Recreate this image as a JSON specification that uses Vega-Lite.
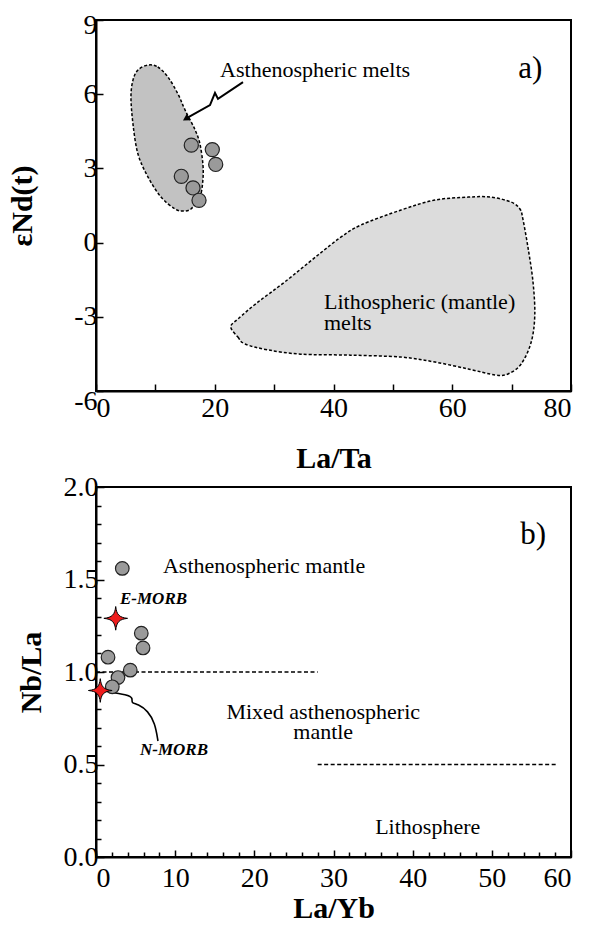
{
  "$schema": "https://vega.github.io/schema/vega-lite/v6.json",
  "padding": {"left": 6, "top": 10, "right": 5, "bottom": 0},
  "spacing": -2,
  "config": {
    "view": {"stroke": "black", "strokeWidth": 2},
    "axis": {"domainColor": "black", "domainWidth": 2, "tickColor": "black", "tickWidth": 1.5, "grid": false,
      "labelFont": "Liberation Serif", "labelFontSize": 28, "labelColor": "black", "labelPadding": 6,
      "titleFont": "Liberation Serif", "titleFontSize": 30, "titleFontWeight": "bold", "titleColor": "black"},
    "text": {"font": "Liberation Serif", "fontSize": 22, "color": "black"}
  },
  "datasets": {
    "litho": [
      {"i": 1, "x": 22.7, "y": -3.41}, {"i": 2, "x": 23.9, "y": -3.82}, {"i": 3, "x": 25.1, "y": -4.10},
      {"i": 4, "x": 29.0, "y": -4.34}, {"i": 5, "x": 34.5, "y": -4.51}, {"i": 6, "x": 42.9, "y": -4.55},
      {"i": 7, "x": 51.4, "y": -4.63}, {"i": 8, "x": 57.1, "y": -4.83}, {"i": 9, "x": 62.7, "y": -5.11},
      {"i": 10, "x": 67.2, "y": -5.35}, {"i": 11, "x": 69.4, "y": -5.31}, {"i": 12, "x": 71.6, "y": -4.91},
      {"i": 13, "x": 73.3, "y": -4.02}, {"i": 14, "x": 73.9, "y": -2.93}, {"i": 15, "x": 73.6, "y": -1.59},
      {"i": 16, "x": 72.8, "y": -0.26}, {"i": 17, "x": 71.9, "y": 0.95}, {"i": 18, "x": 71.4, "y": 1.36},
      {"i": 19, "x": 69.9, "y": 1.64}, {"i": 20, "x": 66.5, "y": 1.84}, {"i": 21, "x": 62.7, "y": 1.84},
      {"i": 22, "x": 57.1, "y": 1.72}, {"i": 23, "x": 51.4, "y": 1.32}, {"i": 24, "x": 44.6, "y": 0.71},
      {"i": 25, "x": 41.3, "y": 0.23}, {"i": 26, "x": 37.4, "y": -0.50}, {"i": 27, "x": 31.8, "y": -1.59},
      {"i": 28, "x": 27.3, "y": -2.40}, {"i": 29, "x": 23.9, "y": -3.09}
    ],
    "astheno": [
      {"i": 1, "x": 8.76, "y": 7.18}, {"i": 2, "x": 10.4, "y": 7.10}, {"i": 3, "x": 12.1, "y": 6.70},
      {"i": 4, "x": 13.8, "y": 6.01}, {"i": 5, "x": 15.0, "y": 5.36}, {"i": 6, "x": 16.7, "y": 4.55},
      {"i": 7, "x": 17.5, "y": 3.99}, {"i": 8, "x": 18.0, "y": 3.18}, {"i": 9, "x": 18.0, "y": 2.53},
      {"i": 10, "x": 17.5, "y": 1.84}, {"i": 11, "x": 16.0, "y": 1.36}, {"i": 12, "x": 14.65, "y": 1.28},
      {"i": 13, "x": 13.31, "y": 1.36}, {"i": 14, "x": 10.95, "y": 1.84}, {"i": 15, "x": 8.76, "y": 2.65},
      {"i": 16, "x": 7.07, "y": 3.58}, {"i": 17, "x": 6.23, "y": 4.79}, {"i": 18, "x": 5.89, "y": 5.89},
      {"i": 19, "x": 6.23, "y": 6.57}, {"i": 20, "x": 7.07, "y": 6.98}
    ],
    "arrowA": [
      {"i": 1, "x": 24.76, "y": 6.49}, {"i": 2, "x": 20.55, "y": 5.81}, {"i": 3, "x": 20.04, "y": 6.05},
      {"i": 4, "x": 19.2, "y": 5.56}, {"i": 5, "x": 15.5, "y": 5.06}
    ],
    "arrowHead": [{"x": 15.3, "y": 5.03}],
    "samplesA": [
      {"x": 16.05, "y": 3.94}, {"x": 19.59, "y": 3.76}, {"x": 20.16, "y": 3.16},
      {"x": 14.37, "y": 2.68}, {"x": 16.34, "y": 2.21}, {"x": 17.35, "y": 1.71}
    ],
    "textA": [
      {"x": 20.9, "y": 6.70, "label": "Asthenospheric melts"},
      {"x": 38.4, "y": -2.69, "label": "Lithospheric (mantle)\nmelts"}
    ],
    "panelA": [{"x": 71.1, "y": 6.65, "label": "a)"}],
    "samplesB": [
      {"x": 3.32, "y": 1.56}, {"x": 5.72, "y": 1.21}, {"x": 5.94, "y": 1.13}, {"x": 1.52, "y": 1.08},
      {"x": 4.33, "y": 1.01}, {"x": 2.78, "y": 0.97}, {"x": 2.06, "y": 0.92}
    ],
    "morb": [
      {"name": "E-MORB", "x": 2.49, "y": 1.29},
      {"name": "N-MORB", "x": 0.54, "y": 0.90}
    ],
    "rulesB": [
      {"x": 0, "x2": 28.0, "y": 1.0},
      {"x": 28.0, "x2": 58.3, "y": 0.5}
    ],
    "nmorbLine": [
      {"i": 1, "x": 1.14, "y": 0.897}, {"i": 2, "x": 4.04, "y": 0.876}, {"i": 3, "x": 4.67, "y": 0.859},
      {"i": 4, "x": 4.42, "y": 0.832}, {"i": 5, "x": 5.31, "y": 0.827}, {"i": 6, "x": 6.57, "y": 0.789},
      {"i": 7, "x": 7.45, "y": 0.724}, {"i": 8, "x": 7.83, "y": 0.627}
    ],
    "textBleft": [
      {"x": 8.46, "y": 1.535, "label": "Asthenospheric mantle"}
    ],
    "textBcenter": [
      {"x": 28.7, "y": 0.746, "label": "Mixed asthenospheric\nmantle"},
      {"x": 41.9, "y": 0.124, "label": "Lithosphere"}
    ],
    "textMorb": [
      {"x": 3.03, "y": 1.368, "label": "E-MORB"},
      {"x": 5.56, "y": 0.551, "label": "N-MORB"}
    ],
    "panelB": [{"x": 53.6, "y": 1.69, "label": "b)"}]
  },
  "vconcat": [
    {
      "width": 475,
      "height": 371,
      "encoding": {
        "x": {"field": "x", "type": "quantitative",
          "scale": {"domain": [0, 80], "nice": false, "zero": false},
          "axis": {"title": "La/Ta", "values": [0, 10, 20, 30, 40, 50, 60, 70, 80],
            "labelExpr": "datum.value % 20 === 0 ? datum.label : ''", "tickSize": -7, "labelPadding": 10, "titlePadding": 21}},
        "y": {"field": "y", "type": "quantitative",
          "scale": {"domain": [-6, 9], "nice": false, "zero": false},
          "axis": {"title": "εNd(t)", "values": [-6, -3, 0, 3, 6, 9], "tickSize": -7, "titlePadding": 36,
            "labelExpr": "replace(datum.label, '−', '-')",
            "labelOffset": {"condition": [{"test": "datum.value == -6", "value": 10}, {"test": "datum.value == 9", "value": 5}], "value": 0}}}
      },
      "layer": [
        {"data": {"name": "litho"},
          "mark": {"type": "line", "interpolate": "cardinal-closed", "fill": "#dcdcdc", "stroke": "black", "strokeWidth": 1.5, "strokeDash": [3, 2]},
          "encoding": {"order": {"field": "i"}}},
        {"data": {"name": "astheno"},
          "mark": {"type": "line", "interpolate": "cardinal-closed", "fill": "#c2c2c2", "stroke": "black", "strokeWidth": 1.5, "strokeDash": [3, 2]},
          "encoding": {"order": {"field": "i"}}},
        {"data": {"name": "arrowA"},
          "mark": {"type": "line", "stroke": "black", "strokeWidth": 2},
          "encoding": {"order": {"field": "i"}}},
        {"data": {"name": "arrowHead"},
          "mark": {"type": "point", "shape": "triangle", "angle": 239, "size": 60, "filled": true, "color": "black", "opacity": 1}},
        {"data": {"name": "samplesA"},
          "mark": {"type": "point", "shape": "circle", "size": 200, "filled": true, "fill": "#9a9a9a", "stroke": "#222222", "strokeWidth": 1.2, "opacity": 1}},
        {"data": {"name": "textA"},
          "mark": {"type": "text", "align": "left", "baseline": "alphabetic", "lineBreak": "\n", "lineHeight": 21, "fontSize": 22},
          "encoding": {"text": {"field": "label"}}},
        {"data": {"name": "panelA"},
          "mark": {"type": "text", "align": "left", "baseline": "alphabetic", "fontSize": 31},
          "encoding": {"text": {"field": "label"}}}
      ]
    },
    {
      "width": 475,
      "height": 370,
      "encoding": {
        "x": {"field": "x", "type": "quantitative",
          "scale": {"domain": [0, 60], "nice": false, "zero": false},
          "axis": {"title": "La/Yb", "values": [0, 2, 4, 6, 8, 10, 12, 14, 16, 18, 20, 22, 24, 26, 28, 30, 32, 34, 36, 38, 40, 42, 44, 46, 48, 50, 52, 54, 56, 58, 60],
            "labelExpr": "datum.value % 10 === 0 ? datum.label : ''",
            "tickSize": {"condition": {"test": "datum.value % 10 === 0", "value": -7}, "value": -5}, "labelPadding": 14, "titlePadding": 1}},
        "y": {"field": "y", "type": "quantitative",
          "scale": {"domain": [0, 2], "nice": false, "zero": false},
          "axis": {"title": "Nb/La", "values": [0, 0.1, 0.2, 0.3, 0.4, 0.5, 0.6, 0.7, 0.8, 0.9, 1.0, 1.1, 1.2, 1.3, 1.4, 1.5, 1.6, 1.7, 1.8, 1.9, 2.0],
            "format": ".1f",
            "labelExpr": "abs(datum.value * 2 - round(datum.value * 2)) < 0.001 ? datum.label : ''",
            "tickSize": {"condition": {"test": "abs(datum.value * 2 - round(datum.value * 2)) < 0.001", "value": -8}, "value": -5},
            "titlePadding": 17}}
      },
      "layer": [
        {"data": {"name": "rulesB"},
          "mark": {"type": "rule", "stroke": "black", "strokeWidth": 1.5, "strokeDash": [4, 2.5]},
          "encoding": {"x2": {"field": "x2"}}},
        {"data": {"name": "nmorbLine"},
          "mark": {"type": "line", "stroke": "black", "strokeWidth": 1.6, "interpolate": "basis"},
          "encoding": {"order": {"field": "i"}}},
        {"data": {"name": "samplesB"},
          "mark": {"type": "point", "shape": "circle", "size": 185, "filled": true, "fill": "#9a9a9a", "stroke": "#222222", "strokeWidth": 1.2, "opacity": 1}},
        {"data": {"name": "morb"},
          "mark": {"type": "point", "shape": "M0,-1 C0.08,-0.3 0.3,-0.08 1,0 C0.3,0.08 0.08,0.3 0,1 C-0.08,0.3 -0.3,0.08 -1,0 C-0.3,-0.08 -0.08,-0.3 0,-1 Z",
            "size": 560, "filled": true, "fill": "#ee1c1c", "stroke": "black", "strokeWidth": 1, "opacity": 1}},
        {"data": {"name": "textBleft"},
          "mark": {"type": "text", "align": "left", "baseline": "alphabetic", "fontSize": 22},
          "encoding": {"text": {"field": "label"}}},
        {"data": {"name": "textBcenter"},
          "mark": {"type": "text", "align": "center", "baseline": "alphabetic", "lineBreak": "\n", "lineHeight": 20, "fontSize": 22},
          "encoding": {"text": {"field": "label"}}},
        {"data": {"name": "textMorb"},
          "mark": {"type": "text", "align": "left", "baseline": "alphabetic", "fontSize": 17, "fontWeight": "bold", "fontStyle": "italic"},
          "encoding": {"text": {"field": "label"}}},
        {"data": {"name": "panelB"},
          "mark": {"type": "text", "align": "left", "baseline": "alphabetic", "fontSize": 31},
          "encoding": {"text": {"field": "label"}}}
      ]
    }
  ]
}
